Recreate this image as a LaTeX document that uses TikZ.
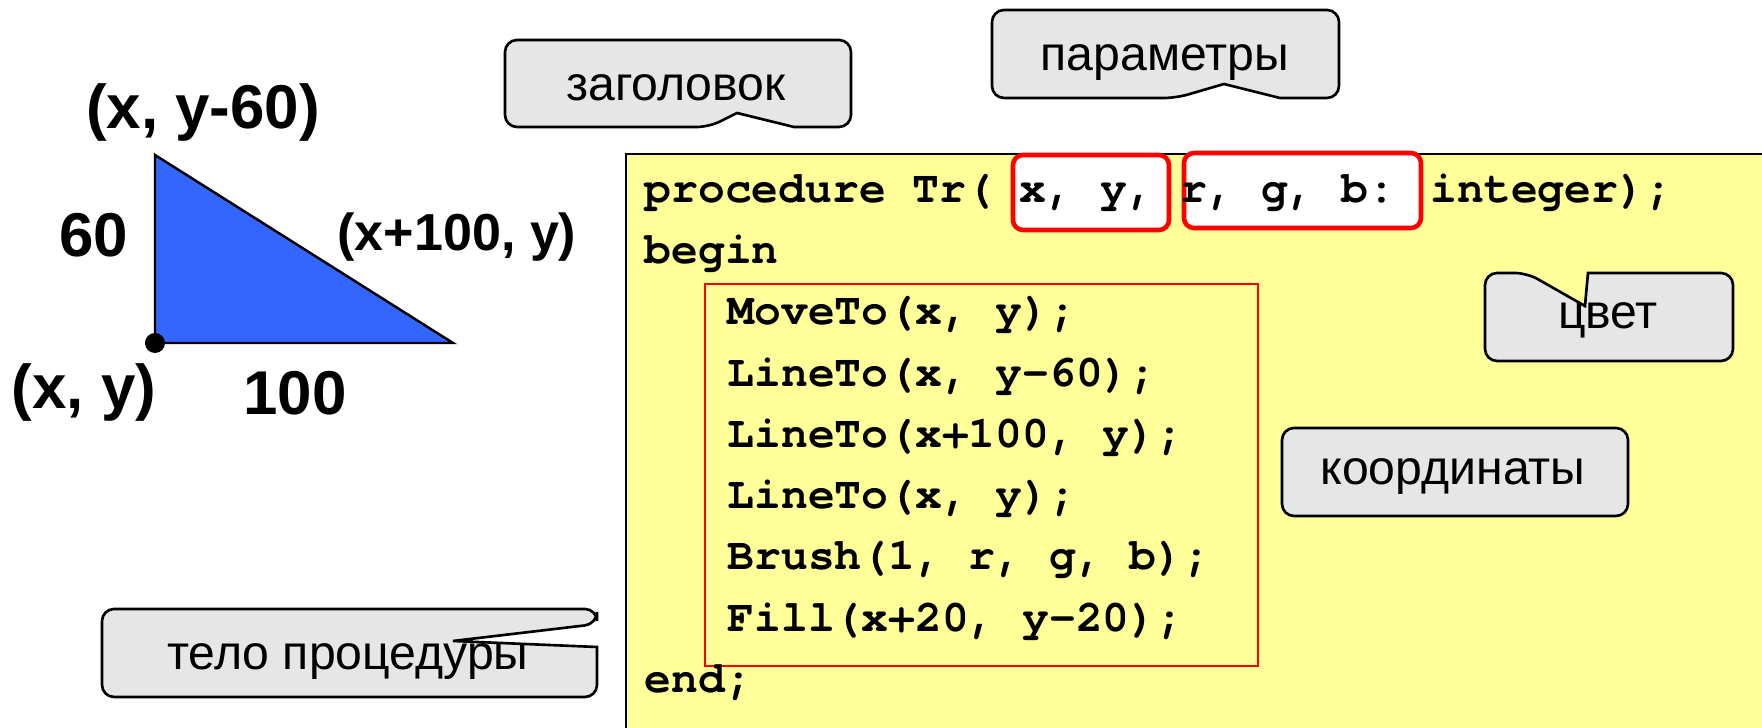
\documentclass[tikz,border=0pt]{standalone}
\usepackage{fontspec}
\setmainfont{Liberation Sans}
\newfontfamily\codefont[Extension=.otf, UprightFont=*-regular, BoldFont=*-bold]{texgyrecursor}
\usepackage{tikz}
\definecolor{codeyellow}{HTML}{FFFF99}
\definecolor{calloutgray}{HTML}{E6E6E6}
\definecolor{triblue}{HTML}{3366FF}
\tikzset{
	callout/.style={draw=black, fill=calloutgray, line width=0.75pt, rounded corners=0.12cm},
	calltext/.style={font=\fontsize{13.7}{16}\selectfont},
	codeline/.style={anchor=base west, inner sep=0pt, font=\codefont\bfseries\fontsize{12.7}{15}\selectfont},
	coordlabel/.style={font=\bfseries\fontsize{17.6}{20}\selectfont},
	parbox/.style={draw=red, fill=white, line width=1.3pt, rounded corners=0.1cm}
}

\begin{document}
\begin{tikzpicture}[x=0.01cm, y=-0.01cm]
		%%%%% START %%%%%
		\useasboundingbox (0, 0) rectangle (1762, 728);
		
		% triangle
		\coordinate (base) at (155, 343);
		\coordinate (top) at (155, 155);
		\coordinate (right) at (453, 343);
		\draw[fill=triblue, line width=0.7pt, line join=miter] (base) -- (top) -- (right) -- cycle;
		\fill (base) circle (0.1cm);
		
		\node[coordlabel] (toplabel) at (203, 113) {(x, y-60)};
		\node[coordlabel] (sidelabel) at (94, 235) {60};
		\node[font=\bfseries\fontsize{14.8}{17}\selectfont] (rightlabel) at (457, 237) {(x+100, y)};
		\node[coordlabel] (baselabel) at (84, 393) {(x, y)};
		\node[coordlabel] (bottomlabel) at (295, 393) {100};
		
		% code
		\fill[codeyellow] (626, 154) rectangle (1762, 728);
		\draw[line width=0.8pt] (626, 728) -- (626, 154) -- (1762, 154);
		
		\draw[parbox] (1013, 155) rectangle (1169, 230);
		\draw[parbox] (1184, 153) rectangle (1421, 228);
		\draw[red, line width=0.6pt] (705, 284) rectangle (1258, 666);
		
		\node[codeline] (head) at (644, 203) {procedure Tr( x, y, r, g, b: integer);};
		\node[codeline] (begin) at (644, 264) {begin};
		\node[codeline] (move) at (727, 325) {MoveTo(x, y);};
		\node[codeline] (lineA) at (727, 387) {LineTo(x, y-60);};
		\node[codeline] (lineB) at (727, 448) {LineTo(x+100, y);};
		\node[codeline] (lineC) at (727, 509) {LineTo(x, y);};
		\node[codeline] (brush) at (727, 570) {Brush(1, r, g, b);};
		\node[codeline] (fill) at (727, 632) {Fill(x+20, y-20);};
		\node[codeline] (end) at (644, 693) {end;};
		
		% callouts
		\draw[callout] (709, 127) [sharp corners] -- (737, 113) -- (794, 127) [rounded corners=0.12cm] -- (851, 127) -- (851, 40) -- (505, 40) -- (505, 127) -- cycle;
		\node[calltext] (title) at (676, 88) {заголовок};
		
		\draw[callout] (1176, 98) [sharp corners] -- (1224, 84) -- (1280, 98) [rounded corners=0.12cm] -- (1339, 98) -- (1339, 10) -- (992, 10) -- (992, 98) -- cycle;
		\node[calltext] (params) at (1165, 63) {параметры};
		
		\draw[callout] (1527, 273) [sharp corners] -- (1585, 306) -- (1588, 273) [rounded corners=0.12cm] -- (1733, 273) -- (1733, 361) -- (1485, 361) -- (1485, 273) -- cycle;
		\node[calltext] (colour) at (1608, 320) {цвет};
		
		\draw[callout] (1282, 428) rectangle (1628, 516);
		\node[calltext] (coords) at (1453, 477) {координаты};
		
		\draw[callout] (597, 624) [sharp corners] -- (453, 641) -- (597, 647) [rounded corners=0.12cm] -- (597, 697) -- (102, 697) -- (102, 609) -- (597, 609) -- cycle;
		\node[calltext] (body) at (348, 662) {тело процедуры};
		
		%%%%% END %%%%%
	\end{tikzpicture}
\end{document}
